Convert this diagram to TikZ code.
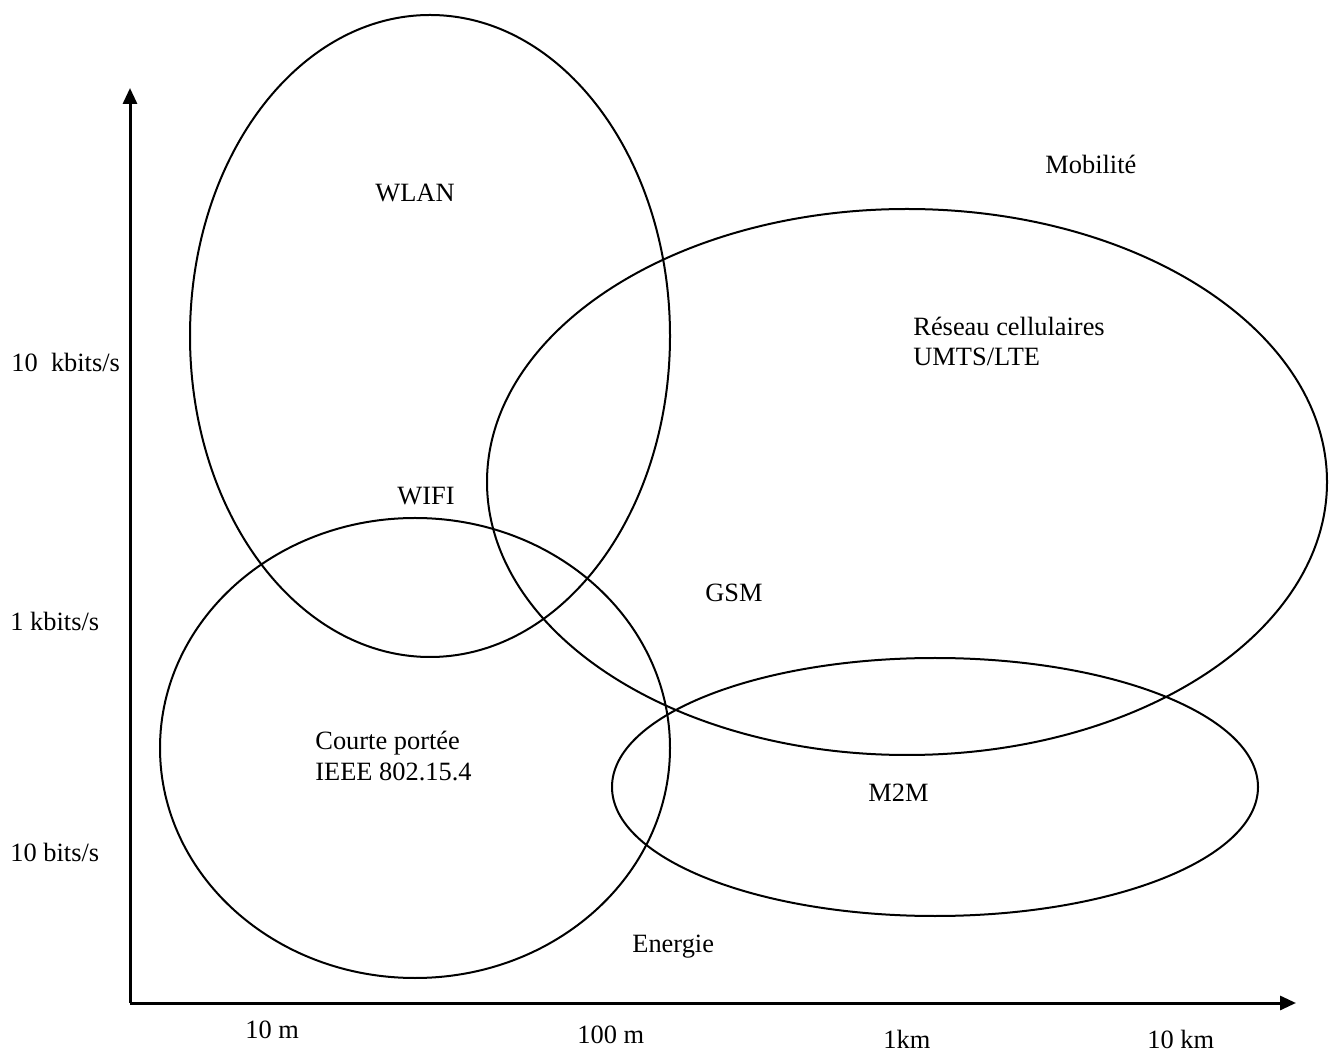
\documentclass[tikz,border=0pt]{standalone}
\usepackage{fontspec}
\setmainfont{Liberation Serif}
\usetikzlibrary{arrows.meta}
\begin{document}
\begin{tikzpicture}[x=0.5pt,y=-0.5pt,
  axis/.style={line width=1.5pt,-{Triangle[length=8pt,width=7pt]}},
  zone/.style={line width=1pt},
  lbl/.style={anchor=base west,inner sep=0pt,font=\fontsize{13.2}{15.3}\selectfont}]
\useasboundingbox (0,0) rectangle (1333,1052);

% axes
\coordinate (origin) at (130,1003);
\coordinate (ytip) at (130,88);
\coordinate (xtip) at (1296,1003);
\draw[axis] (origin) -- (ytip);
\draw[axis] (origin) -- (xtip);

% technology zones
\draw[zone] (430,336) ellipse [x radius=120pt, y radius=160.5pt];
\draw[zone] (907,482) ellipse [x radius=210pt, y radius=136.5pt];
\draw[zone] (415,748) ellipse [x radius=127.5pt, y radius=115pt];
\draw[zone] (935,787) ellipse [x radius=161.5pt, y radius=64.5pt];

% data rate labels
\node[lbl] (r10k) at (11,372) {10\ \ kbits/s};
\node[lbl] (r1k) at (10,631) {1 kbits/s};
\node[lbl] (r10) at (10,861) {10 bits/s};

% range labels
\node[lbl] (d10m) at (245,1038) {10 m};
\node[lbl] (d100m) at (577,1043) {100 m};
\node[lbl] (d1km) at (883,1048) {1km};
\node[lbl] (d10km) at (1147,1048) {10 km};

% zone labels
\node[lbl] (wlan) at (375,202) {WLAN};
\node[lbl] (mob) at (1045,174) {Mobilité};
\node[lbl] (cell1) at (913,336) {Réseau cellulaires};
\node[lbl] (cell2) at (913,366) {UMTS/LTE};
\node[lbl] (wifi) at (397,505) {WIFI};
\node[lbl] (gsm) at (705,602) {GSM};
\node[lbl] (cp1) at (315,750) {Courte portée};
\node[lbl] (cp2) at (315,781) {IEEE 802.15.4};
\node[lbl] (m2m) at (868,801) {M2M};
\node[lbl] (nrg) at (632,952) {Energie};
\end{tikzpicture}
\end{document}
